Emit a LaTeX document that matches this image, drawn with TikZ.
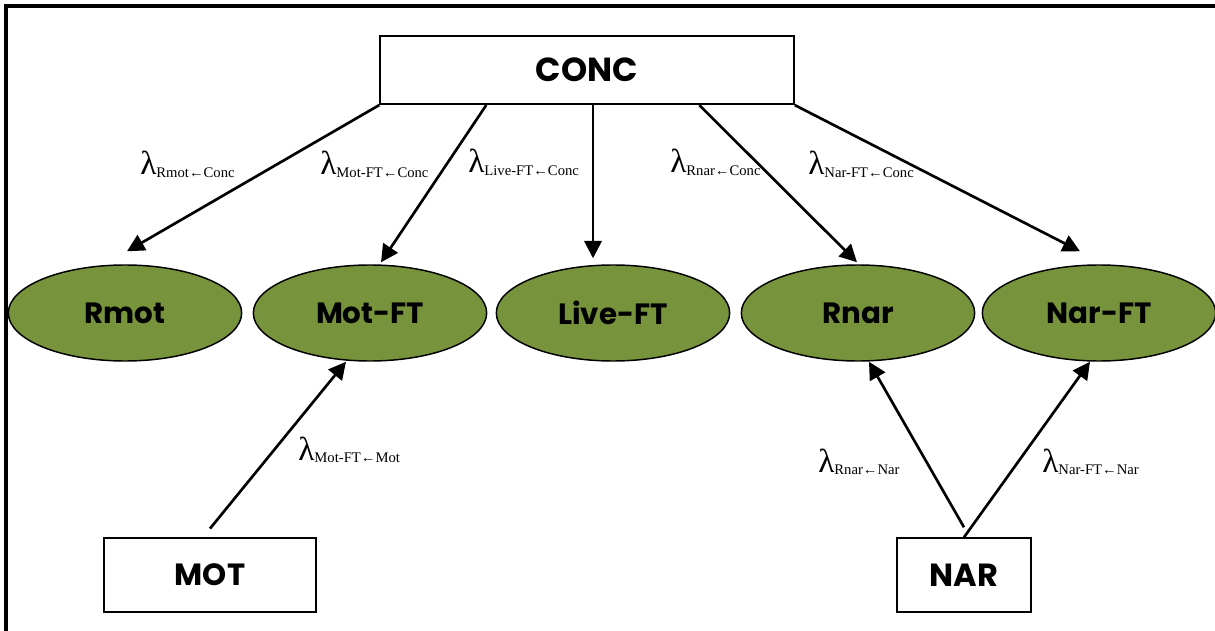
\documentclass[tikz,border=0pt]{standalone}
\usepackage{fontspec}
\setsansfont{Poppins}
\newfontfamily\labfont{Liberation Serif}
\usetikzlibrary{arrows.meta,shapes.geometric}
\newcommand{\lam}[1]{{\labfont\fontsize{25}{25}\selectfont λ}\raisebox{-2pt}{\labfont\fontsize{11}{11}\selectfont #1}}
\begin{document}
\begin{tikzpicture}[x=0.75pt,y=-0.75pt,
latent/.style={ellipse,draw,line width=1.1pt,fill={rgb,255:red,119;green,147;blue,60},minimum width=175pt,minimum height=72pt,inner sep=0pt,font=\sffamily\bfseries\fontsize{22}{22}\selectfont},
factor/.style={rectangle,draw,line width=1.6pt,inner sep=0pt,font=\sffamily\bfseries\fontsize{24}{24}\selectfont},
link/.style={line width=2pt,-{Triangle[length=13pt,width=13pt]}},
lab/.style={anchor=base west,inner sep=0pt}]
\useasboundingbox (0,0) rectangle (1215,631);
\draw[line width=2.6pt](1215,6)--(6,6)--(6,631);
\node[factor,minimum width=310pt,minimum height=51pt,font=\sffamily\bfseries\fontsize{25}{25}\selectfont](conc) at (587,70){CONC};
\node[factor,minimum width=159pt,minimum height=56pt,font=\sffamily\bfseries\fontsize{23}{23}\selectfont](mot) at (210,575){MOT};
\node[factor,minimum width=100pt,minimum height=55pt](nar) at (964,575){NAR};
\node[latent](rmot) at (125,313){Rmot};
\node[latent](motft) at (370,313){Mot-FT};
\node[latent](liveft) at (613,313){Live-FT};
\node[latent](rnar) at (858,313){Rnar};
\node[latent](narft) at (1099,313){Nar-FT};
\draw[link](conc.south west)--([shift={(2,-13)}]rmot.north);
\draw[link]([shift={(107,0)}]conc.south west)--([shift={(11,-2)}]motft.north);
\draw[link]([shift={(6,0)}]conc.south)--([shift={(-20,-6)}]liveft.north);
\draw[link]([shift={(320,0)}]conc.south west)--([shift={(-1,-2)}]rnar.north);
\draw[link](conc.south east)--([shift={(-19,-13)}]narft.north);
\draw[link]([shift={(0,-8)}]mot.north)--([shift={(-24,0)}]motft.south);
\draw[link]([shift={(0,-10)}]nar.north)--([shift={(11,0)}]rnar.south);
\draw[link](nar.north)--([shift={(-9,0)}]narft.south);
\node[lab](l1) at (140,175){\lam{Rmot←Conc}};
\node[lab](l2) at (320,175){\lam{Mot-FT←Conc}};
\node[lab](l3) at (468,173){\lam{Live-FT←Conc}};
\node[lab](l4) at (670,173){\lam{Rnar←Conc}};
\node[lab](l5) at (808,175){\lam{Nar-FT←Conc}};
\node[lab](l6) at (298,460){\lam{Mot-FT←Mot}};
\node[lab](l7) at (818,472){\lam{Rnar←Nar}};
\node[lab](l8) at (1042,472){\lam{Nar-FT←Nar}};
\end{tikzpicture}
\end{document}
